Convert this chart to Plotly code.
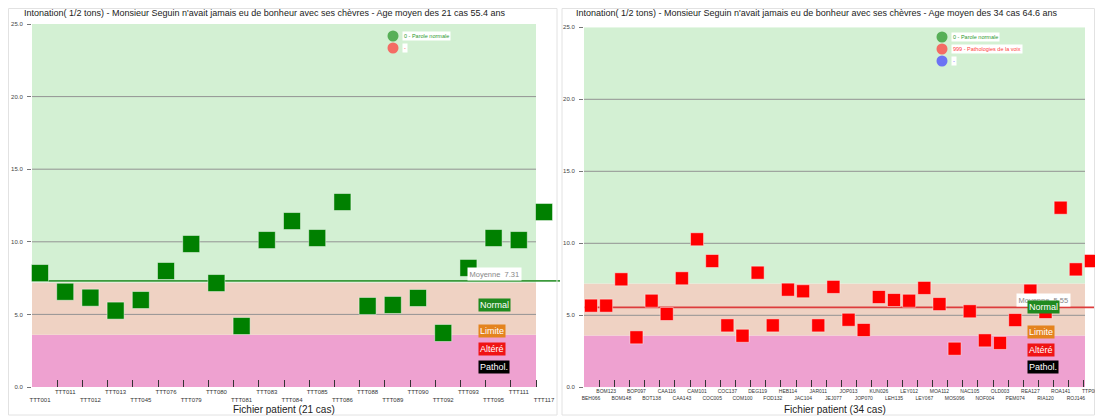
"""Intonation scatter charts: normal speakers vs mixed group."""

import plotly.graph_objects as go

W, H = 1103, 418
PAGE_MARGIN = 8  # default body margin of the html page

# ---- data -------------------------------------------------------------
patients_left = [
    "TTT001", "TTT011", "TTT012", "TTT013", "TTT045", "TTT076", "TTT079",
    "TTT080", "TTT081", "TTT083", "TTT084", "TTT085", "TTT086", "TTT088",
    "TTT089", "TTT090", "TTT092", "TTT093", "TTT095", "TTT111", "TTT117",
]
values_left = [
    7.85, 6.56, 6.15, 5.26, 5.99, 7.99, 9.85, 7.16, 4.20, 10.12, 11.43,
    10.26, 12.74, 5.58, 5.65, 6.13, 3.72, 8.20, 10.26, 10.12, 12.05,
]
mean_left = 7.31

patients_right = [
    "BEH066", "BOM123", "BOM148", "BOP097", "BOT138", "CAA116", "CAA143",
    "CAM101", "COC005", "COC137", "COM100", "DEG119", "FOD132", "HEB114",
    "JAC104", "JAR011", "JEJ077", "JOP013", "JOP070", "KUN026", "LEH135",
    "LEY012", "LEY067", "MOA112", "MOS096", "NAC105", "NOF004", "OLD003",
    "PEM074", "REA127", "RIA120", "ROA141", "ROJ146", "TTP005",
]
values_right = [
    5.67, 5.67, 7.50, 3.47, 6.01, 5.09, 7.57, 10.28, 8.77, 4.30, 3.58,
    7.96, 4.30, 6.78, 6.67, 4.30, 6.97, 4.69, 3.98, 6.27, 6.06, 6.01,
    6.90, 5.78, 2.68, 5.28, 3.26, 3.08, 4.67, 6.71, 5.23, 12.47, 8.19, 8.77,
]
mean_right = 5.55

band_edges = [0, 3.6, 7.2, 25]
band_colors = ["#eea1d0", "#efd2c3", "#d3f0d3"]
grid_values = [5, 10, 15, 20]
y_ticks = [0, 5, 10, 15, 20, 25]

titles = [
    "Intonation( 1/2 tons) - Monsieur Seguin n'avait jamais eu de bonheur "
    "avec ses chèvres - Age moyen des 21 cas 55.4 ans",
    "Intonation( 1/2 tons) - Monsieur Seguin n'avait jamais eu de bonheur "
    "avec ses chèvres - Age moyen des 34 cas 64.6 ans",
]
x_titles = ["Fichier patient (21 cas)", "Fichier patient (34 cas)"]

legend_left = [("0 - Parole normale", "#2e9a2e"), ("-", "#ff4040")]
legend_right = [
    ("0 - Parole normale", "#2e9a2e"),
    ("999 - Pathologies de la voix", "#ff4040"),
    ("-", "#4a4aff"),
]
grades = [("Normal", "#1f8a1f"), ("Limite", "#e4831e"),
          ("Altéré", "#f01414"), ("Pathol.", "#000000")]

FONT = "Liberation Sans, Arial, sans-serif"

# the page keeps its default body margin, so the figure starts 8px in
FW, FH = W - 2 * PAGE_MARGIN, H - PAGE_MARGIN


def px(x):
    # screen pixel -> paper fraction
    return (x - PAGE_MARGIN) / FW


def py(y):
    return 1 - (y - PAGE_MARGIN) / FH


fig = go.Figure()
shapes = []
annotations = []


def add_panel(n, patients, values, mean, color, mean_color, legend, geo):
    xa = "x" if n == 1 else "x%d" % n
    ya = "y" if n == 1 else "y%d" % n
    (left, band_right, axis_right, cat0, step, top, bottom,
     msize, tick_size, grade_rows, legend_xy) = geo
    idx = list(range(len(patients)))
    shift = (cat0 - left) / step  # ticks sit a little left of the markers

    fig.add_trace(go.Scatter(
        x=idx, y=values, mode="markers", xaxis=xa, yaxis=ya,
        marker=dict(symbol="square", size=msize, color=color,
                    line=dict(color="rgba(255,255,255,0.45)", width=1)),
        showlegend=False, hoverinfo="y", cliponaxis=False,
    ))

    # alternate tick labels on two rows
    ticktext = [p if i % 2 else "<br>" + p for i, p in enumerate(patients)]
    layout_x = dict(
        domain=[px(left), px(axis_right)],
        range=[-shift, (axis_right - cat0) / step],
        anchor=ya, showgrid=False, zeroline=False, showline=False,
        automargin=False, tickangle=0, ticklabeloverflow="allow",
        tickmode="array", tickvals=[i - shift for i in idx],
        ticktext=ticktext, ticklabelshift=cat0 - left,
        ticks="inside", ticklen=7, tickwidth=1.2, tickcolor="#333",
        layer="above traces",
        tickfont=dict(size=tick_size, color="#333", family=FONT),
    )
    layout_y = dict(
        domain=[py(bottom), py(top)], range=[0, 25], anchor=xa,
        showgrid=False, zeroline=False, showline=False, automargin=False,
        tickmode="array", tickvals=y_ticks,
        ticktext=["%.1f" % v for v in y_ticks],
        ticks="outside", ticklen=4, tickcolor="#777", ticklabelstandoff=3,
        tickfont=dict(size=6, color="#444", family=FONT),
    )
    fig.update_layout({"xaxis" + ("" if n == 1 else str(n)): layout_x,
                       "yaxis" + ("" if n == 1 else str(n)): layout_y})

    # coloured zones
    for lo, hi, c in zip(band_edges[:-1], band_edges[1:], band_colors):
        shapes.append(dict(type="rect", xref="paper", yref=ya,
                           x0=px(left), x1=px(band_right), y0=lo, y1=hi,
                           fillcolor=c, line=dict(width=0), layer="below"))
    for g in grid_values:
        shapes.append(dict(type="line", xref="paper", yref=ya,
                           x0=px(left), x1=px(band_right), y0=g, y1=g,
                           line=dict(color="#939393", width=1), layer="below"))
    shapes.append(dict(type="line", xref="paper", yref=ya,
                       x0=px(left), x1=px(min(axis_right + 10, W)),
                       y0=mean, y1=mean,
                       line=dict(color=mean_color, width=1.6), layer="below"))

    annotations.append(dict(
        xref="paper", yref=ya, x=px(band_right - 69), y=mean, yshift=7,
        xanchor="left", yanchor="middle", showarrow=False,
        text="Moyenne\u00a0 %.2f" % mean, bgcolor="white",
        font=dict(size=7.5, color="#888", family=FONT), borderpad=1.5,
    ))

    # grade labels
    for (label, bg), yy in zip(grades, grade_rows):
        annotations.append(dict(
            xref="paper", yref="paper", x=px(band_right - 58), y=py(yy),
            xanchor="left", yanchor="middle", showarrow=False, text=label,
            bgcolor=bg, borderpad=1,
            font=dict(size=9, color="white", family=FONT),
        ))

    # small legend with halo dots
    lx, ly = legend_xy
    for i, (label, c) in enumerate(legend):
        cy = ly + i * 12
        shapes.append(dict(type="circle", xref="paper", yref="paper",
                           x0=px(lx - 4), x1=px(lx + 4),
                           y0=py(cy + 4), y1=py(cy - 4),
                           fillcolor=c, line=dict(color=c, width=3),
                           opacity=0.75))
        annotations.append(dict(
            xref="paper", yref="paper", x=px(lx + 9), y=py(cy),
            xanchor="left", yanchor="middle", showarrow=False, text=label,
            bgcolor="white", font=dict(size=5.5, color=c, family=FONT),
            borderpad=1,
        ))

    annotations.append(dict(
        xref="paper", yref="paper", x=px(left - 10), y=py(13),
        xanchor="left", yanchor="middle", showarrow=False,
        text=titles[n - 1], font=dict(size=9, color="#222", family=FONT),
    ))
    annotations.append(dict(
        xref="paper", yref="paper", x=px((left + band_right) / 2), y=py(409),
        xanchor="center", yanchor="middle", showarrow=False,
        text=x_titles[n - 1], font=dict(size=10, color="#222", family=FONT),
    ))


# geometry: left, band_right, axis_right, first marker px, step, top, bottom,
#           marker size, tick font, grade label rows, legend origin
add_panel(1, patients_left, values_left, mean_left, "#008000", "#3c9a3c",
          legend_left,
          (32, 536, 550, 40, 25.2, 24, 387, 17, 6,
           (305, 330.5, 348.5, 366.5), (393, 36)))
add_panel(2, patients_right, values_right, mean_right, "#ff0000", "#dd3c3c",
          legend_right,
          (584, 1085, 1095, 591, 15.15, 27.3, 387.3, 13, 5,
           (306.5, 332, 349.5, 366.5), (942, 37)))

# light panel frames
for x0, x1 in ((PAGE_MARGIN + 0.5, 557), (562, W - PAGE_MARGIN - 0.5)):
    shapes.append(dict(type="rect", xref="paper", yref="paper",
                       x0=px(x0), x1=px(x1), y0=py(415), y1=py(PAGE_MARGIN + 0.5),
                       line=dict(color="#e2e2e2", width=1), layer="below"))

fig.update_layout(
    width=FW, height=FH,
    margin=dict(l=0, r=0, t=0, b=0),
    paper_bgcolor="white", plot_bgcolor="rgba(0,0,0,0)",
    shapes=shapes, annotations=annotations,
    font=dict(family=FONT),
)

fig.write_html("out.html")
